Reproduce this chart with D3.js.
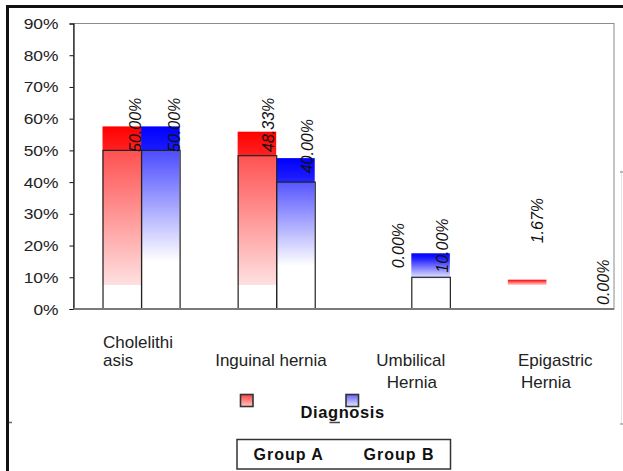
<!DOCTYPE html>
<html>
<head>
<meta charset="utf-8">
<script src="https://cdn.jsdelivr.net/npm/d3@7"></script>
<style>
  html, body { margin: 0; padding: 0; background: #fff; }
  svg { display: block; font-family: Arial, "Liberation Sans", sans-serif; }
</style>
</head>
<body>
<svg id="chart" width="623" height="471"></svg>
<script>
// Diagnosis share per group
const categories = ["Cholelithiasis", "Inguinal hernia", "Umbilical Hernia", "Epigastric Hernia"];
const groups = ["Group A", "Group B"];
const groupA = [0.50, 0.4833, 0.00, 0.0167];
const groupB = [0.50, 0.40, 0.10, 0.00];
const yTicks = [0, 0.1, 0.2, 0.3, 0.4, 0.5, 0.6, 0.7, 0.8, 0.9];
const axisTitle = "Diagnosis";

// How each category name wraps onto the axis rows
const categoryLines = [["Cholelithi", "asis"], ["Inguinal hernia"], ["Umbilical", "Hernia"], ["Epigastric", "Hernia"]];

// ---- layout ----
const plot = { left: 73.5, right: 614, top: 23.5, bottom: 309 };
const depth = 24;                 // upward offset of the shaded body behind each bar
const catRow0 = [0, 1, 1, 1];     // first text row used by each category label
const catRowY = [348, 366, 388];
const catLineDx = [[-38, -38], [-61], [-35, -24.5], [-28.5, -25.5]];
// value-label nudges [dx, dy] from (bar right edge, bar top)
const labelNudge = [
  [[-0.5, 1.6], [0.3, 1.6]],
  [[-2.2, -3.7], [-1.3, -8.8]],
  [[-7.2, -40.7], [-1.7, -4.6]],
  [[-3.8, -60.4], [24.3, -4]]
];

const svg = d3.select("#chart");
const defs = svg.append("defs");

function vGradient(id, stops) {
  const g = defs.append("linearGradient").attr("id", id)
    .attr("x1", 0).attr("y1", 0).attr("x2", 0).attr("y2", 1);
  stops.forEach(([o, c]) => g.append("stop").attr("offset", o).attr("stop-color", c));
}
vGradient("gradA", [[0, "#ff0000"], [0.15, "#ff2020"], [1, "#ffd8d8"]]);
vGradient("gradB", [[0, "#0000ff"], [0.15, "#1a1aff"], [0.85, "#ffffff"], [1, "#ffffff"]]);
vGradient("legA", [[0, "#ff4040"], [1, "#ffc8c8"]]);
vGradient("legB", [[0, "#6060ff"], [1, "#e8e8ff"]]);
const fills = ["url(#gradA)", "url(#gradB)"];

const x0 = d3.scaleBand().domain(categories).range([plot.left, plot.right]).padding(0);
const x1 = d3.scaleBand().domain(groups).range([0, x0.bandwidth()]).paddingInner(0).paddingOuter(0.753);
const y = d3.scaleLinear().domain([0, 0.9]).range([plot.bottom, plot.top]);

// outer frame
svg.append("rect").attr("x", 7.5).attr("y", 6.5).attr("width", 700).attr("height", 500)
  .attr("fill", "none").attr("stroke", "#111").attr("stroke-width", 3);
svg.append("line").attr("x1", 9).attr("x2", 12).attr("y1", 422.5).attr("y2", 422.5)
  .attr("stroke", "#666").attr("stroke-width", 1.5);
svg.append("line").attr("x1", 621.5).attr("x2", 621.5).attr("y1", 170).attr("y2", 425)
  .attr("stroke", "#e4e4e4").attr("stroke-width", 1);
svg.append("line").attr("x1", 620).attr("x2", 623).attr("y1", 172).attr("y2", 172)
  .attr("stroke", "#bbb").attr("stroke-width", 2);
svg.append("line").attr("x1", 620).attr("x2", 623).attr("y1", 424).attr("y2", 424)
  .attr("stroke", "#aaa").attr("stroke-width", 1.5);

// plot area border
svg.append("rect").attr("x", plot.left).attr("y", plot.top)
  .attr("width", plot.right - plot.left).attr("height", plot.bottom - plot.top)
  .attr("fill", "none").attr("stroke", "#8c8c8c").attr("stroke-width", 1);

const rows = categories.map((c, i) => [
  { cat: c, g: groups[0], v: groupA[i], s: 0, i },
  { cat: c, g: groups[1], v: groupB[i], s: 1, i }
]);
const bars = rows.flat();

// shaded body, lifted by the depth offset
svg.append("g").selectAll("rect").data(bars.filter(d => d.v > 0)).join("rect")
  .attr("x", d => x0(d.cat) + x1(d.g))
  .attr("width", x1.bandwidth())
  .attr("y", d => y(d.v) - depth)
  .attr("height", d => y(0) - y(d.v))
  .attr("fill", d => fills[d.s]);

// front face outline
svg.append("g").selectAll("rect").data(bars.filter(d => d.v > 0.05)).join("rect")
  .attr("x", d => x0(d.cat) + x1(d.g) + 0.5)
  .attr("width", x1.bandwidth())
  .attr("y", d => y(d.v))
  .attr("height", d => y(0) - y(d.v))
  .attr("fill", "#fff").attr("fill-opacity", 0.22)
  .attr("stroke", "#222").attr("stroke-width", 1.2);

// y axis
const yAxis = d3.axisLeft(y).tickValues(yTicks).tickFormat(d3.format(".0%")).tickSize(4).tickPadding(0);
const ya = svg.append("g").attr("transform", `translate(${plot.left},0)`).call(yAxis);
ya.select(".domain").attr("stroke", "#111").attr("stroke-width", 1.2);
ya.selectAll(".tick line").attr("stroke", "#111");
ya.selectAll(".tick text").remove();
ya.selectAll(".tick").append("text")
  .attr("transform", "translate(-15,5) scale(1.2,1)")
  .attr("text-anchor", "end")
  .attr("fill", "#222")
  .style("font-size", "14.5px")
  .style("font-family", "Arial, 'Liberation Sans', sans-serif")
  .text(d => d3.format(".0%")(d));

// category axis line
svg.append("line").attr("x1", plot.left).attr("x2", plot.right)
  .attr("y1", plot.bottom).attr("y2", plot.bottom)
  .attr("stroke", "#7a7a7a").attr("stroke-width", 2);

// value labels
svg.append("g").selectAll("text").data(bars).join("text")
  .attr("transform", d => {
    const n = labelNudge[d.i][d.s];
    const bx = x0(d.cat) + x1(d.g) + x1.bandwidth() + n[0];
    const by = y(d.v) + n[1];
    return `translate(${bx},${by}) rotate(-90)`;
  })
  .attr("text-anchor", "start")
  .attr("fill", "#111")
  .style("font-size", "16px")
  .style("font-style", "italic")
  .text(d => d3.format(".2%")(d.v));

// category labels
const cl = svg.append("g").attr("fill", "#222").style("font-size", "17px");
categoryLines.forEach((lines, i) => {
  const cx = x0(categories[i]) + x0.bandwidth() / 2;
  lines.forEach((t, j) => {
    cl.append("text")
      .attr("x", cx + catLineDx[i][j])
      .attr("y", catRowY[catRow0[i] + j])
      .text(t);
  });
});

// legend markers and axis title
svg.append("rect").attr("x", 240.5).attr("y", 394.5).attr("width", 12.5).attr("height", 12)
  .attr("fill", "url(#legA)").attr("stroke", "#333").attr("stroke-width", 1.6);
svg.append("rect").attr("x", 346).attr("y", 394.5).attr("width", 12.5).attr("height", 12)
  .attr("fill", "url(#legB)").attr("stroke", "#333").attr("stroke-width", 1.6);
svg.append("text").attr("x", 300.5).attr("y", 418.3)
  .attr("fill", "#111").style("font-size", "16.5px").style("font-weight", "bold")
  .style("letter-spacing", "0.6px").text(axisTitle);
svg.append("line").attr("x1", 329.5).attr("x2", 340).attr("y1", 422.5).attr("y2", 422.5)
  .attr("stroke", "#444").attr("stroke-width", 1.5);

// legend box
svg.append("rect").attr("x", 237).attr("y", 439.5).attr("width", 213.5).attr("height", 29.5)
  .attr("fill", "#fff").attr("stroke", "#333").attr("stroke-width", 1.5);
const legX = [253.5, 363.5];
svg.append("g").selectAll("text").data(groups).join("text")
  .attr("x", (d, i) => legX[i]).attr("y", 459.5)
  .attr("fill", "#111").style("font-size", "16px").style("font-weight", "bold")
  .style("letter-spacing", "1px")
  .text(d => d);
</script>
</body>
</html>
